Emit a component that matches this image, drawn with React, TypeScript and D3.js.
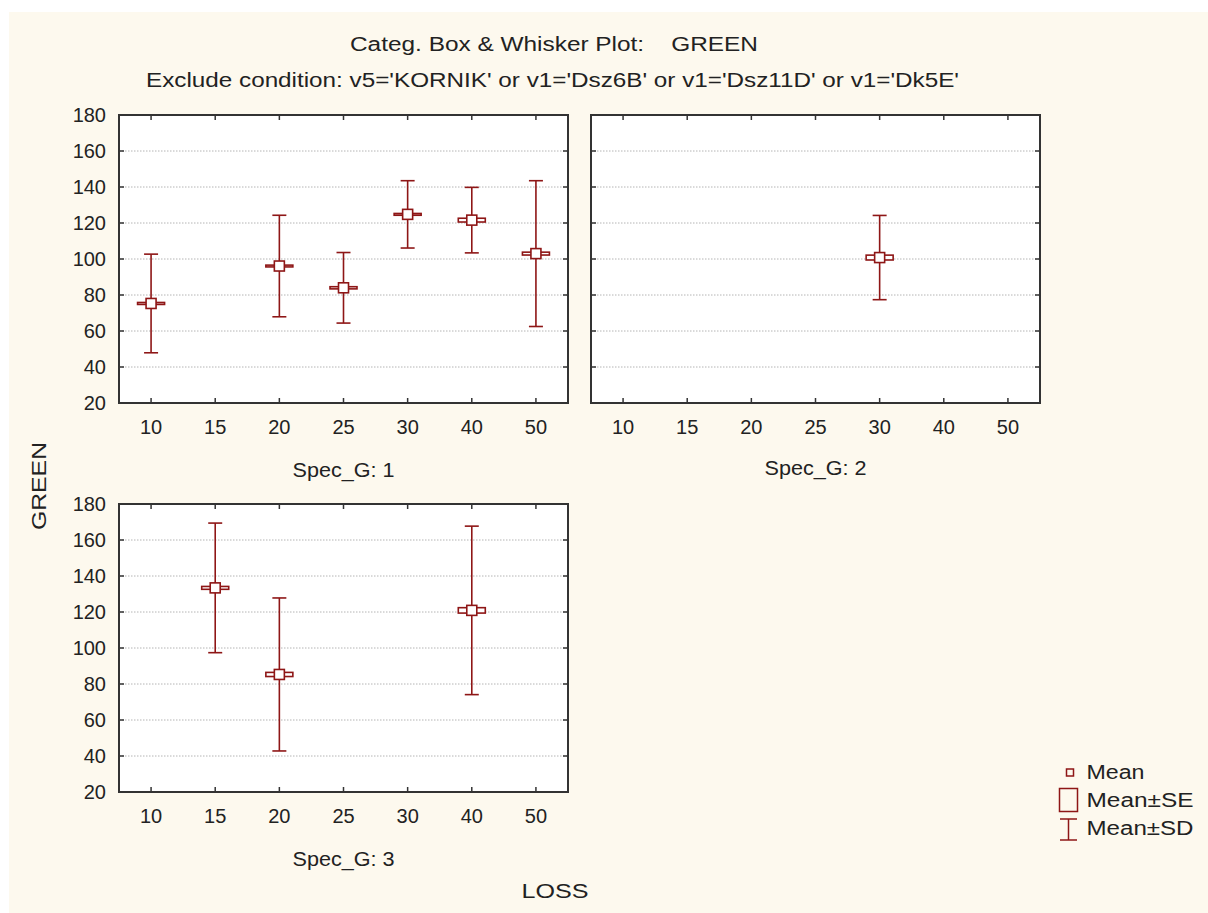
import React from "react";
import * as d3 from "d3";

const categories = ["10", "15", "20", "25", "30", "40", "50"];
const yTicks = [20, 40, 60, 80, 100, 120, 140, 160, 180];

// Spec_G: 1
const g1Cats = ["10", "20", "25", "30", "40", "50"];
const g1Mean = [75.3, 96.1, 84.0, 124.8, 121.6, 103.0];
const g1SE = [0.55, 0.5, 0.6, 0.5, 1.05, 0.8];
const g1SD = [27.4, 28.2, 19.6, 18.7, 18.2, 40.5];

// Spec_G: 2
const g2Cats = ["30"];
const g2Mean = [100.8];
const g2SE = [1.35];
const g2SD = [23.4];

// Spec_G: 3
const g3Cats = ["15", "20", "40"];
const g3Mean = [133.4, 85.3, 120.9];
const g3SE = [0.8, 1.15, 1.5];
const g3SD = [36.0, 42.5, 46.8];

const RED = "#8e1616";
const FRAME = "#333333";
const FONT = "'Liberation Sans', Arial, sans-serif";

type Panel = {
  label: string;
  x: number;
  y: number;
  showY: boolean;
  cats: string[];
  mean: number[];
  se: number[];
  sd: number[];
  labelDy: number;
};

const W = 449;
const H = 288;

const panels: Panel[] = [
  { label: "Spec_G: 1", x: 119, y: 115, showY: true, cats: g1Cats, mean: g1Mean, se: g1SE, sd: g1SD, labelDy: 67 },
  { label: "Spec_G: 2", x: 591, y: 115, showY: false, cats: g2Cats, mean: g2Mean, se: g2SE, sd: g2SD, labelDy: 65 },
  { label: "Spec_G: 3", x: 119, y: 504, showY: true, cats: g3Cats, mean: g3Mean, se: g3SE, sd: g3SD, labelDy: 67 },
];

function PanelView({ p }: { p: Panel }) {
  const x = d3.scaleBand<string>().domain(categories).range([p.x, p.x + W]);
  const y = d3.scaleLinear().domain([20, 180]).range([p.y + H, p.y]);
  const cx = (c: string) => (x(c) as number) + x.bandwidth() / 2;
  const tick = 5;
  const capW = 14;
  const boxW = 27;
  const mk = 10;
  return (
    <g>
      <rect x={p.x} y={p.y} width={W} height={H} fill="#ffffff" />
      {yTicks.slice(1, -1).map((t) => (
        <line key={"g" + t} x1={p.x} x2={p.x + W} y1={y(t)} y2={y(t)} stroke="#b4b4b4" strokeWidth={1} strokeDasharray="1.5,1.5" />
      ))}
      {yTicks.slice(1, -1).map((t) => (
        <g key={"yt" + t}>
          <line x1={p.x} x2={p.x + tick} y1={y(t)} y2={y(t)} stroke={FRAME} strokeWidth={1.5} />
          <line x1={p.x + W} x2={p.x + W - tick} y1={y(t)} y2={y(t)} stroke={FRAME} strokeWidth={1.5} />
        </g>
      ))}
      {categories.map((c) => (
        <g key={"xt" + c}>
          <line x1={cx(c)} x2={cx(c)} y1={p.y + H} y2={p.y + H - tick} stroke={FRAME} strokeWidth={1.5} />
          <line x1={cx(c)} x2={cx(c)} y1={p.y} y2={p.y + tick} stroke={FRAME} strokeWidth={1.5} />
          <text x={cx(c)} y={p.y + H + 24} textAnchor="middle" dominantBaseline="central" fontSize={20} fill="#222" fontFamily={FONT}>
            {c}
          </text>
        </g>
      ))}
      {p.showY &&
        yTicks.map((t) => (
          <text key={"yl" + t} x={p.x - 13} y={y(t)} textAnchor="end" dominantBaseline="central" fontSize={20} fill="#222" fontFamily={FONT}>
            {t}
          </text>
        ))}
      <rect x={p.x} y={p.y} width={W} height={H} fill="none" stroke={FRAME} strokeWidth={2} />
      {p.cats.map((c, i) => {
        const m = p.mean[i];
        const px = cx(c);
        return (
          <g key={"d" + c}>
            <line x1={px} x2={px} y1={y(m + p.sd[i])} y2={y(m - p.sd[i])} stroke={RED} strokeWidth={1.6} />
            <line x1={px - capW / 2} x2={px + capW / 2} y1={y(m + p.sd[i])} y2={y(m + p.sd[i])} stroke={RED} strokeWidth={1.6} />
            <line x1={px - capW / 2} x2={px + capW / 2} y1={y(m - p.sd[i])} y2={y(m - p.sd[i])} stroke={RED} strokeWidth={1.6} />
            <rect
              x={px - boxW / 2}
              y={y(m + p.se[i])}
              width={boxW}
              height={y(m - p.se[i]) - y(m + p.se[i])}
              fill="#ffffff"
              stroke={RED}
              strokeWidth={1.6}
            />
            <rect x={px - mk / 2} y={y(m) - mk / 2} width={mk} height={mk} fill="#ffffff" stroke={RED} strokeWidth={1.6} />
          </g>
        );
      })}
      <text
        x={p.x + W / 2}
        y={p.y + H + p.labelDy}
        textAnchor="middle"
        dominantBaseline="central"
        fontSize={20}
        fill="#222"
        fontFamily={FONT}
        textLength={102}
        lengthAdjust="spacingAndGlyphs"
      >
        {p.label}
      </text>
    </g>
  );
}

export default function App() {
  return (
    <svg width={1208} height={913} style={{ position: "absolute", left: 0, top: 0 }}>
      <rect x={0} y={0} width={1208} height={913} fill="#ffffff" />
      <rect x={9} y={12} width={1199} height={901} fill="#fdf9ee" />
      <text
        x={554}
        y={44}
        textAnchor="middle"
        dominantBaseline="central"
        fontSize={20}
        fill="#222"
        fontFamily={FONT}
        style={{ whiteSpace: "pre" }}
        textLength={408}
        lengthAdjust="spacingAndGlyphs"
      >
        {"Categ. Box & Whisker Plot:    GREEN"}
      </text>
      <text
        x={552.5}
        y={80}
        textAnchor="middle"
        dominantBaseline="central"
        fontSize={20}
        fill="#222"
        fontFamily={FONT}
        style={{ whiteSpace: "pre" }}
        textLength={813}
        lengthAdjust="spacingAndGlyphs"
      >
        {"Exclude condition: v5='KORNIK' or v1='Dsz6B' or v1='Dsz11D' or v1='Dk5E'"}
      </text>
      {panels.map((p) => (
        <PanelView key={p.label} p={p} />
      ))}
      <text
        x={0}
        y={0}
        transform="translate(39,486) rotate(-90)"
        textAnchor="middle"
        dominantBaseline="central"
        fontSize={20}
        fill="#222"
        fontFamily={FONT}
        textLength={88}
        lengthAdjust="spacingAndGlyphs"
      >
        GREEN
      </text>
      <text
        x={555}
        y={891}
        textAnchor="middle"
        dominantBaseline="central"
        fontSize={20}
        fill="#222"
        fontFamily={FONT}
        textLength={67}
        lengthAdjust="spacingAndGlyphs"
      >
        LOSS
      </text>
      {/* Legend */}
      <g>
        <rect x={1066.5} y={769} width={7} height={7} fill="none" stroke={RED} strokeWidth={1.5} />
        <text x={1086.5} y={772} dominantBaseline="central" fontSize={20} fill="#222" fontFamily={FONT} textLength={58} lengthAdjust="spacingAndGlyphs">
          Mean
        </text>
        <rect x={1059.5} y={788.5} width={18} height={23} fill="none" stroke={RED} strokeWidth={1.5} />
        <text x={1086.5} y={800} dominantBaseline="central" fontSize={20} fill="#222" fontFamily={FONT} textLength={107} lengthAdjust="spacingAndGlyphs">
          Mean±SE
        </text>
        <line x1={1068.5} x2={1068.5} y1={819} y2={840} stroke={RED} strokeWidth={1.5} />
        <line x1={1060} x2={1077} y1={819} y2={819} stroke={RED} strokeWidth={1.5} />
        <line x1={1060} x2={1077} y1={840} y2={840} stroke={RED} strokeWidth={1.5} />
        <text x={1086.5} y={828} dominantBaseline="central" fontSize={20} fill="#222" fontFamily={FONT} textLength={107} lengthAdjust="spacingAndGlyphs">
          Mean±SD
        </text>
      </g>
    </svg>
  );
}
